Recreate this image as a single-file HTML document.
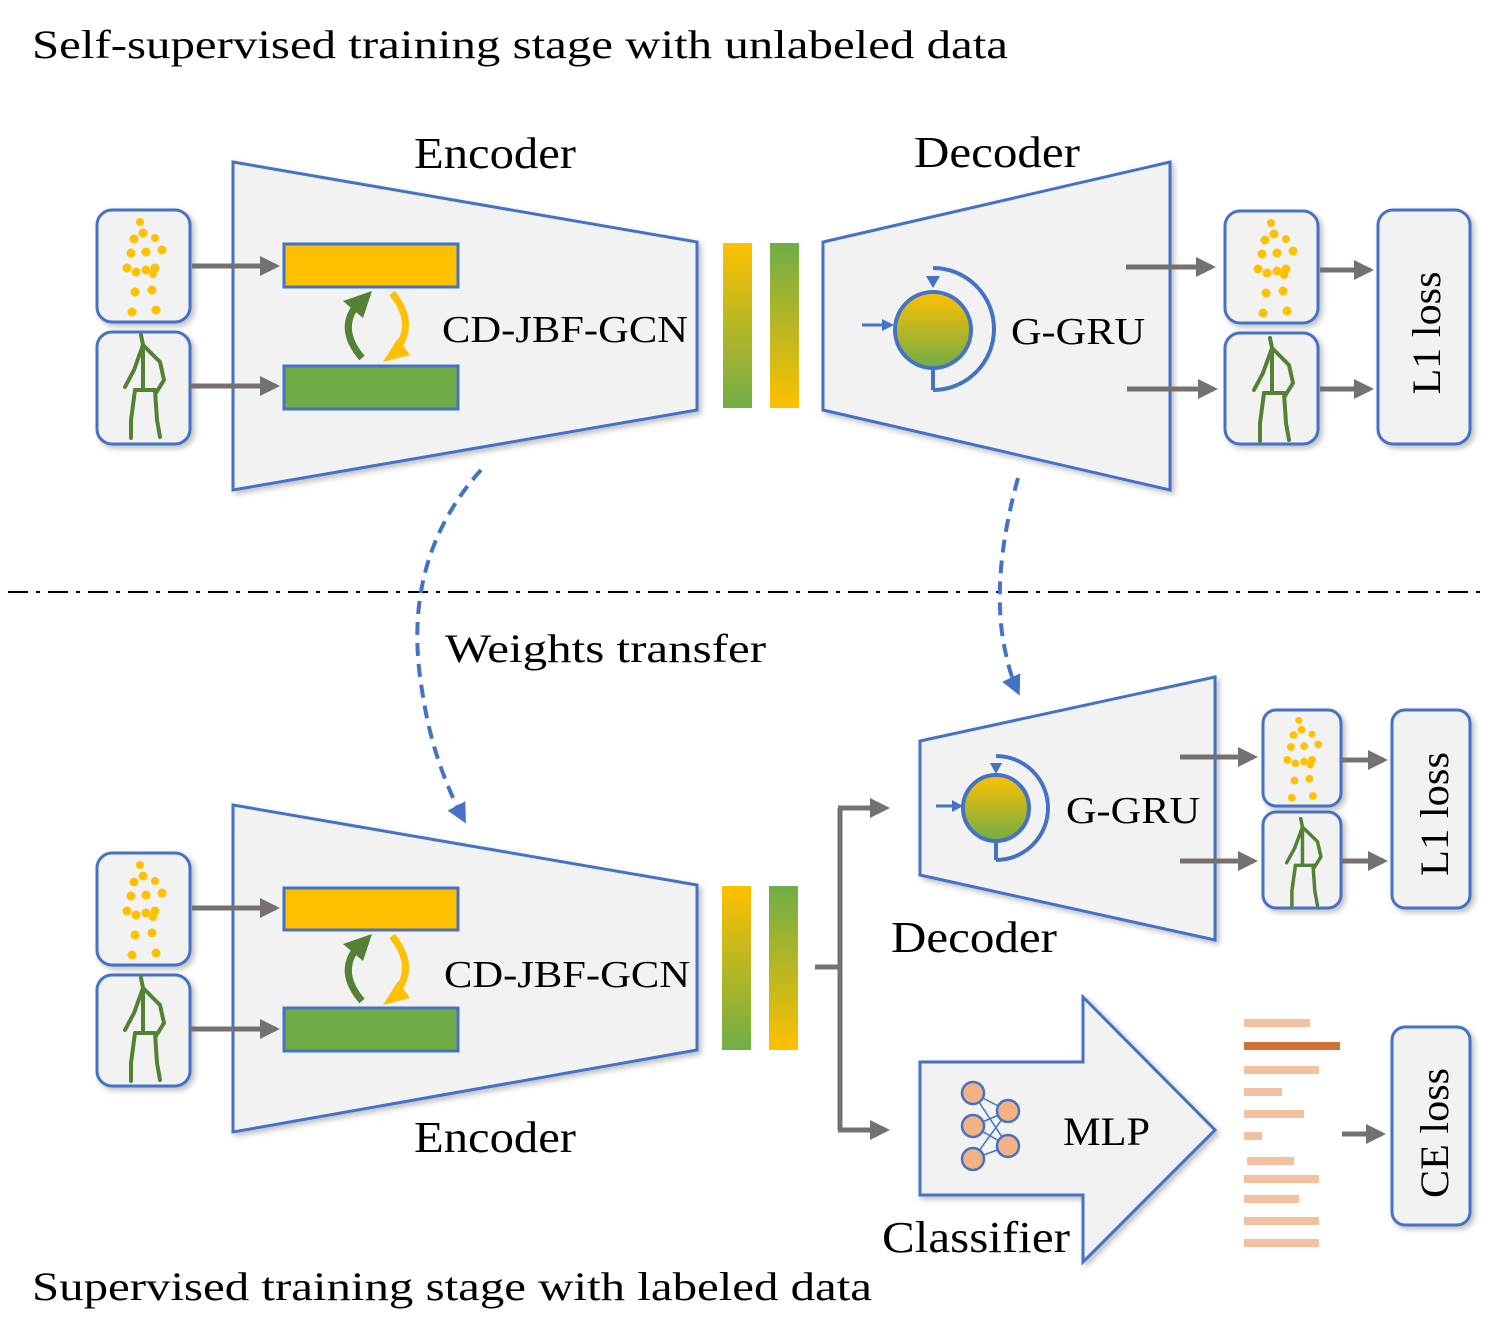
<!DOCTYPE html>
<html><head><meta charset="utf-8"><style>html,body{margin:0;padding:0;background:#fff}svg{display:block}text{font-family:"Liberation Serif",serif;fill:#000}</style></head>
<body>
<svg width="1489" height="1333" viewBox="0 0 1489 1333" xmlns="http://www.w3.org/2000/svg">
<defs>
<linearGradient id="gy" x1="0" y1="0" x2="0" y2="1"><stop offset="0" stop-color="#ffc000"/><stop offset="1" stop-color="#70ad47"/></linearGradient>
<linearGradient id="yg" x1="0" y1="0" x2="0" y2="1"><stop offset="0" stop-color="#70ad47"/><stop offset="1" stop-color="#ffc000"/></linearGradient>
<marker id="ga" markerWidth="4" markerHeight="4" refX="3.2" refY="2" orient="auto" markerUnits="strokeWidth"><path d="M0,0 L4,2 L0,4 z" fill="#767171"/></marker>
<marker id="ba" markerWidth="5" markerHeight="5" refX="4" refY="2.5" orient="auto" markerUnits="strokeWidth"><path d="M0,0 L5,2.5 L0,5 z" fill="#4472c4"/></marker>
<g id="dots" fill="#ffc000">
<circle cx="43" cy="12" r="4"/><circle cx="46" cy="23" r="4.5"/><circle cx="37" cy="29" r="4.5"/><circle cx="58" cy="28" r="4"/><circle cx="34" cy="43" r="4.5"/><circle cx="49" cy="42" r="4.5"/><circle cx="65" cy="40" r="4.5"/><circle cx="30" cy="58" r="4.5"/><circle cx="39" cy="62" r="4.5"/><circle cx="49" cy="60" r="4.5"/><circle cx="58" cy="58" r="4.5"/><circle cx="56" cy="64" r="4"/><circle cx="38" cy="82" r="4.5"/><circle cx="55" cy="80" r="4.5"/><circle cx="35" cy="102" r="4.5"/><circle cx="59" cy="100" r="4.5"/>
</g>
<g id="skel" fill="none" stroke="#548235" stroke-width="4" stroke-linecap="round" stroke-linejoin="round">
<path d="M44,3 L46,13 L46,58"/><path d="M46,13 L37,38 L28,55"/><path d="M46,13 L63,30 L67,48 L59,61"/><path d="M38,58 L58,58"/><path d="M38,58 L34,88 L34,106"/><path d="M58,58 L60,88 L63,105"/>
</g>
<g id="cyc">
<path d="M362,358 Q338,330 356,306" fill="none" stroke="#548235" stroke-width="7"/>
<polygon points="372,291 343,301 363,318" fill="#548235"/>
<path d="M392,293 Q418,325 394,352" fill="none" stroke="#ffc000" stroke-width="7"/>
<polygon points="383,362 398,338 410,355" fill="#ffc000"/>
</g>
<filter id="sh" x="-20%" y="-20%" width="150%" height="150%"><feDropShadow dx="3" dy="3" stdDeviation="3" flood-color="#000" flood-opacity="0.25"/></filter>
</defs>

<text x="32" y="58" font-size="40" textLength="976" lengthAdjust="spacingAndGlyphs">Self-supervised training stage with unlabeled data</text>
<text x="32" y="1300" font-size="40" textLength="840" lengthAdjust="spacingAndGlyphs">Supervised training stage with labeled data</text>

<!-- Top encoder -->
<polygon points="233,162 697,242 697,410 233,490" fill="#f2f2f2" stroke="#4472c4" stroke-width="3" filter="url(#sh)"/>
<text x="414" y="168" font-size="44" textLength="162" lengthAdjust="spacingAndGlyphs">Encoder</text>
<rect x="284" y="244" width="174" height="43" fill="#ffc000" stroke="#4472c4" stroke-width="3"/>
<rect x="284" y="366" width="174" height="43" fill="#70ad47" stroke="#4472c4" stroke-width="3"/>
<use href="#cyc"/>
<text x="442" y="342" font-size="38" textLength="246" lengthAdjust="spacingAndGlyphs">CD-JBF-GCN</text>
<rect x="723" y="243" width="29" height="165" fill="url(#gy)"/>
<rect x="770" y="243" width="29" height="165" fill="url(#yg)"/>
<rect x="97" y="210" width="93" height="112" rx="15" fill="#f2f2f2" stroke="#4472c4" stroke-width="3" filter="url(#sh)"/>
<use href="#dots" x="97" y="210"/>
<rect x="97" y="332" width="93" height="112" rx="15" fill="#f2f2f2" stroke="#4472c4" stroke-width="3" filter="url(#sh)"/>
<use href="#skel" x="97" y="332"/>
<line x1="192" y1="266" x2="276" y2="266" stroke="#767171" stroke-width="5" marker-end="url(#ga)"/>
<line x1="190" y1="386" x2="276" y2="386" stroke="#767171" stroke-width="5" marker-end="url(#ga)"/>

<!-- Top decoder -->
<polygon points="823,242 1170,162 1170,490 823,410" fill="#f2f2f2" stroke="#4472c4" stroke-width="3" filter="url(#sh)"/>
<text x="914" y="167" font-size="44" textLength="166" lengthAdjust="spacingAndGlyphs">Decoder</text>
<circle cx="933" cy="330" r="38" fill="url(#gy)" stroke="#4472c4" stroke-width="4"/>
<path d="M933,390 A60,60 0 0 0 933,268" fill="none" stroke="#4472c4" stroke-width="4"/>
<path d="M933,370 L933,390" stroke="#4472c4" stroke-width="4"/>
<polygon points="926,276 940,276 933,288" fill="#4472c4"/>
<line x1="862" y1="325" x2="884" y2="325" stroke="#4472c4" stroke-width="3"/>
<polygon points="882,319 894,325 882,331" fill="#4472c4"/>
<text x="1011" y="344" font-size="38" textLength="134" lengthAdjust="spacingAndGlyphs">G-GRU</text>
<line x1="1126" y1="267" x2="1212" y2="267" stroke="#767171" stroke-width="5" marker-end="url(#ga)"/>
<line x1="1127" y1="389" x2="1214" y2="389" stroke="#767171" stroke-width="5" marker-end="url(#ga)"/>
<rect x="1225" y="211" width="93" height="112" rx="15" fill="#f2f2f2" stroke="#4472c4" stroke-width="3" filter="url(#sh)"/>
<use href="#dots" x="1228" y="211"/>
<rect x="1225" y="333" width="93" height="111" rx="15" fill="#f2f2f2" stroke="#4472c4" stroke-width="3" filter="url(#sh)"/>
<use href="#skel" x="1226" y="335"/>
<line x1="1320" y1="270" x2="1370" y2="270" stroke="#767171" stroke-width="5" marker-end="url(#ga)"/>
<line x1="1320" y1="389" x2="1370" y2="389" stroke="#767171" stroke-width="5" marker-end="url(#ga)"/>
<rect x="1378" y="210" width="92" height="234" rx="15" fill="#f2f2f2" stroke="#4472c4" stroke-width="3" filter="url(#sh)"/>
<text transform="translate(1440,333) rotate(-90)" text-anchor="middle" font-size="40" textLength="123" lengthAdjust="spacingAndGlyphs">L1 loss</text>

<line x1="8" y1="592" x2="1485" y2="592" stroke="#000" stroke-width="2" stroke-dasharray="20,8,4,8"/>

<path d="M481,470 Q400,560 422,690 Q432,760 464,820" fill="none" stroke="#4472c4" stroke-width="4" stroke-dasharray="13,8" marker-end="url(#ba)"/>
<path d="M1018,478 Q990,580 1005,650 Q1010,675 1018,692" fill="none" stroke="#4472c4" stroke-width="4" stroke-dasharray="13,8" marker-end="url(#ba)"/>
<text x="445" y="662" font-size="40" textLength="321" lengthAdjust="spacingAndGlyphs">Weights transfer</text>

<!-- Bottom encoder -->
<polygon points="233,805 697,885 697,1050 233,1132" fill="#f2f2f2" stroke="#4472c4" stroke-width="3" filter="url(#sh)"/>
<text x="414" y="1152" font-size="44" textLength="162" lengthAdjust="spacingAndGlyphs">Encoder</text>
<rect x="284" y="888" width="174" height="42" fill="#ffc000" stroke="#4472c4" stroke-width="3"/>
<rect x="284" y="1008" width="174" height="43" fill="#70ad47" stroke="#4472c4" stroke-width="3"/>
<use href="#cyc" y="643"/>
<text x="444" y="987" font-size="38" textLength="246" lengthAdjust="spacingAndGlyphs">CD-JBF-GCN</text>
<rect x="722" y="886" width="29" height="164" fill="url(#gy)"/>
<rect x="769" y="886" width="29" height="164" fill="url(#yg)"/>
<rect x="97" y="853" width="93" height="112" rx="15" fill="#f2f2f2" stroke="#4472c4" stroke-width="3" filter="url(#sh)"/>
<use href="#dots" x="97" y="853"/>
<rect x="97" y="975" width="93" height="111" rx="15" fill="#f2f2f2" stroke="#4472c4" stroke-width="3" filter="url(#sh)"/>
<use href="#skel" x="97" y="975"/>
<line x1="192" y1="908" x2="276" y2="908" stroke="#767171" stroke-width="5" marker-end="url(#ga)"/>
<line x1="190" y1="1029" x2="276" y2="1029" stroke="#767171" stroke-width="5" marker-end="url(#ga)"/>

<path d="M815,967 L840,967 M840,808 L840,1130" stroke="#767171" stroke-width="5" fill="none"/>
<line x1="838" y1="808" x2="886" y2="808" stroke="#767171" stroke-width="5" marker-end="url(#ga)"/>
<line x1="838" y1="1130" x2="886" y2="1130" stroke="#767171" stroke-width="5" marker-end="url(#ga)"/>

<!-- Bottom decoder -->
<polygon points="920,741 1215,677 1215,940 920,875" fill="#f2f2f2" stroke="#4472c4" stroke-width="3" filter="url(#sh)"/>
<text x="891" y="952" font-size="44" textLength="166" lengthAdjust="spacingAndGlyphs">Decoder</text>
<circle cx="996" cy="808" r="33" fill="url(#gy)" stroke="#4472c4" stroke-width="4"/>
<path d="M996,860 A52,52 0 0 0 996,756" fill="none" stroke="#4472c4" stroke-width="4"/>
<line x1="996" y1="841" x2="996" y2="860" stroke="#4472c4" stroke-width="4"/>
<polygon points="990,763 1002,763 996,774" fill="#4472c4"/>
<line x1="936" y1="806" x2="954" y2="806" stroke="#4472c4" stroke-width="3"/>
<polygon points="952,800 963,806 952,812" fill="#4472c4"/>
<text x="1066" y="823" font-size="38" textLength="134" lengthAdjust="spacingAndGlyphs">G-GRU</text>
<line x1="1180" y1="757" x2="1254" y2="757" stroke="#767171" stroke-width="5" marker-end="url(#ga)"/>
<line x1="1180" y1="861" x2="1254" y2="861" stroke="#767171" stroke-width="5" marker-end="url(#ga)"/>
<rect x="1263" y="710" width="78" height="96" rx="13" fill="#f2f2f2" stroke="#4472c4" stroke-width="3" filter="url(#sh)"/>
<use href="#dots" transform="translate(1261,710) scale(0.88,0.86)"/>
<rect x="1263" y="812" width="78" height="96" rx="13" fill="#f2f2f2" stroke="#4472c4" stroke-width="3" filter="url(#sh)"/>
<use href="#skel" transform="translate(1262,816) scale(0.88,0.85)"/>
<line x1="1342" y1="760" x2="1384" y2="760" stroke="#767171" stroke-width="5" marker-end="url(#ga)"/>
<line x1="1342" y1="861" x2="1384" y2="861" stroke="#767171" stroke-width="5" marker-end="url(#ga)"/>
<rect x="1392" y="710" width="78" height="198" rx="13" fill="#f2f2f2" stroke="#4472c4" stroke-width="3" filter="url(#sh)"/>
<text transform="translate(1448,814) rotate(-90)" text-anchor="middle" font-size="40" textLength="124" lengthAdjust="spacingAndGlyphs">L1 loss</text>

<!-- Classifier -->
<polygon points="920,1062 1083,1062 1083,997 1215,1130 1083,1262 1083,1195 920,1195" fill="#f2f2f2" stroke="#4472c4" stroke-width="3" filter="url(#sh)"/>
<g stroke="#4472c4" stroke-width="1.5">
<line x1="973" y1="1093" x2="1008" y2="1111"/><line x1="973" y1="1093" x2="1008" y2="1146"/>
<line x1="973" y1="1126" x2="1008" y2="1111"/><line x1="973" y1="1126" x2="1008" y2="1146"/>
<line x1="973" y1="1159" x2="1008" y2="1111"/><line x1="973" y1="1159" x2="1008" y2="1146"/>
</g>
<g fill="#f4b183" stroke="#4472c4" stroke-width="2.5">
<circle cx="973" cy="1093" r="11"/><circle cx="973" cy="1126" r="11"/><circle cx="973" cy="1159" r="11"/>
<circle cx="1008" cy="1111" r="11"/><circle cx="1008" cy="1146" r="11"/>
</g>
<text x="1063" y="1145" font-size="40" textLength="87" lengthAdjust="spacingAndGlyphs">MLP</text>
<text x="882" y="1252" font-size="44" textLength="188" lengthAdjust="spacingAndGlyphs">Classifier</text>
<g fill="#f4c1a0">
<rect x="1244" y="1019" width="66" height="8"/>
<rect x="1244" y="1066" width="75" height="8"/>
<rect x="1244" y="1088" width="38" height="8"/>
<rect x="1244" y="1110" width="60" height="8"/>
<rect x="1244" y="1132" width="18" height="8"/>
<rect x="1247" y="1157" width="47" height="8"/>
<rect x="1244" y="1175" width="75" height="8"/>
<rect x="1244" y="1195" width="55" height="8"/>
<rect x="1244" y="1217" width="75" height="8"/>
<rect x="1244" y="1239" width="75" height="8"/>
</g>
<rect x="1244" y="1042" width="96" height="8" fill="#c55a11" opacity="0.85"/>
<line x1="1342" y1="1134" x2="1382" y2="1134" stroke="#767171" stroke-width="5" marker-end="url(#ga)"/>
<rect x="1392" y="1027" width="78" height="198" rx="13" fill="#f2f2f2" stroke="#4472c4" stroke-width="3" filter="url(#sh)"/>
<text transform="translate(1448,1133) rotate(-90)" text-anchor="middle" font-size="40" textLength="130" lengthAdjust="spacingAndGlyphs">CE loss</text>
</svg>
</body></html>
